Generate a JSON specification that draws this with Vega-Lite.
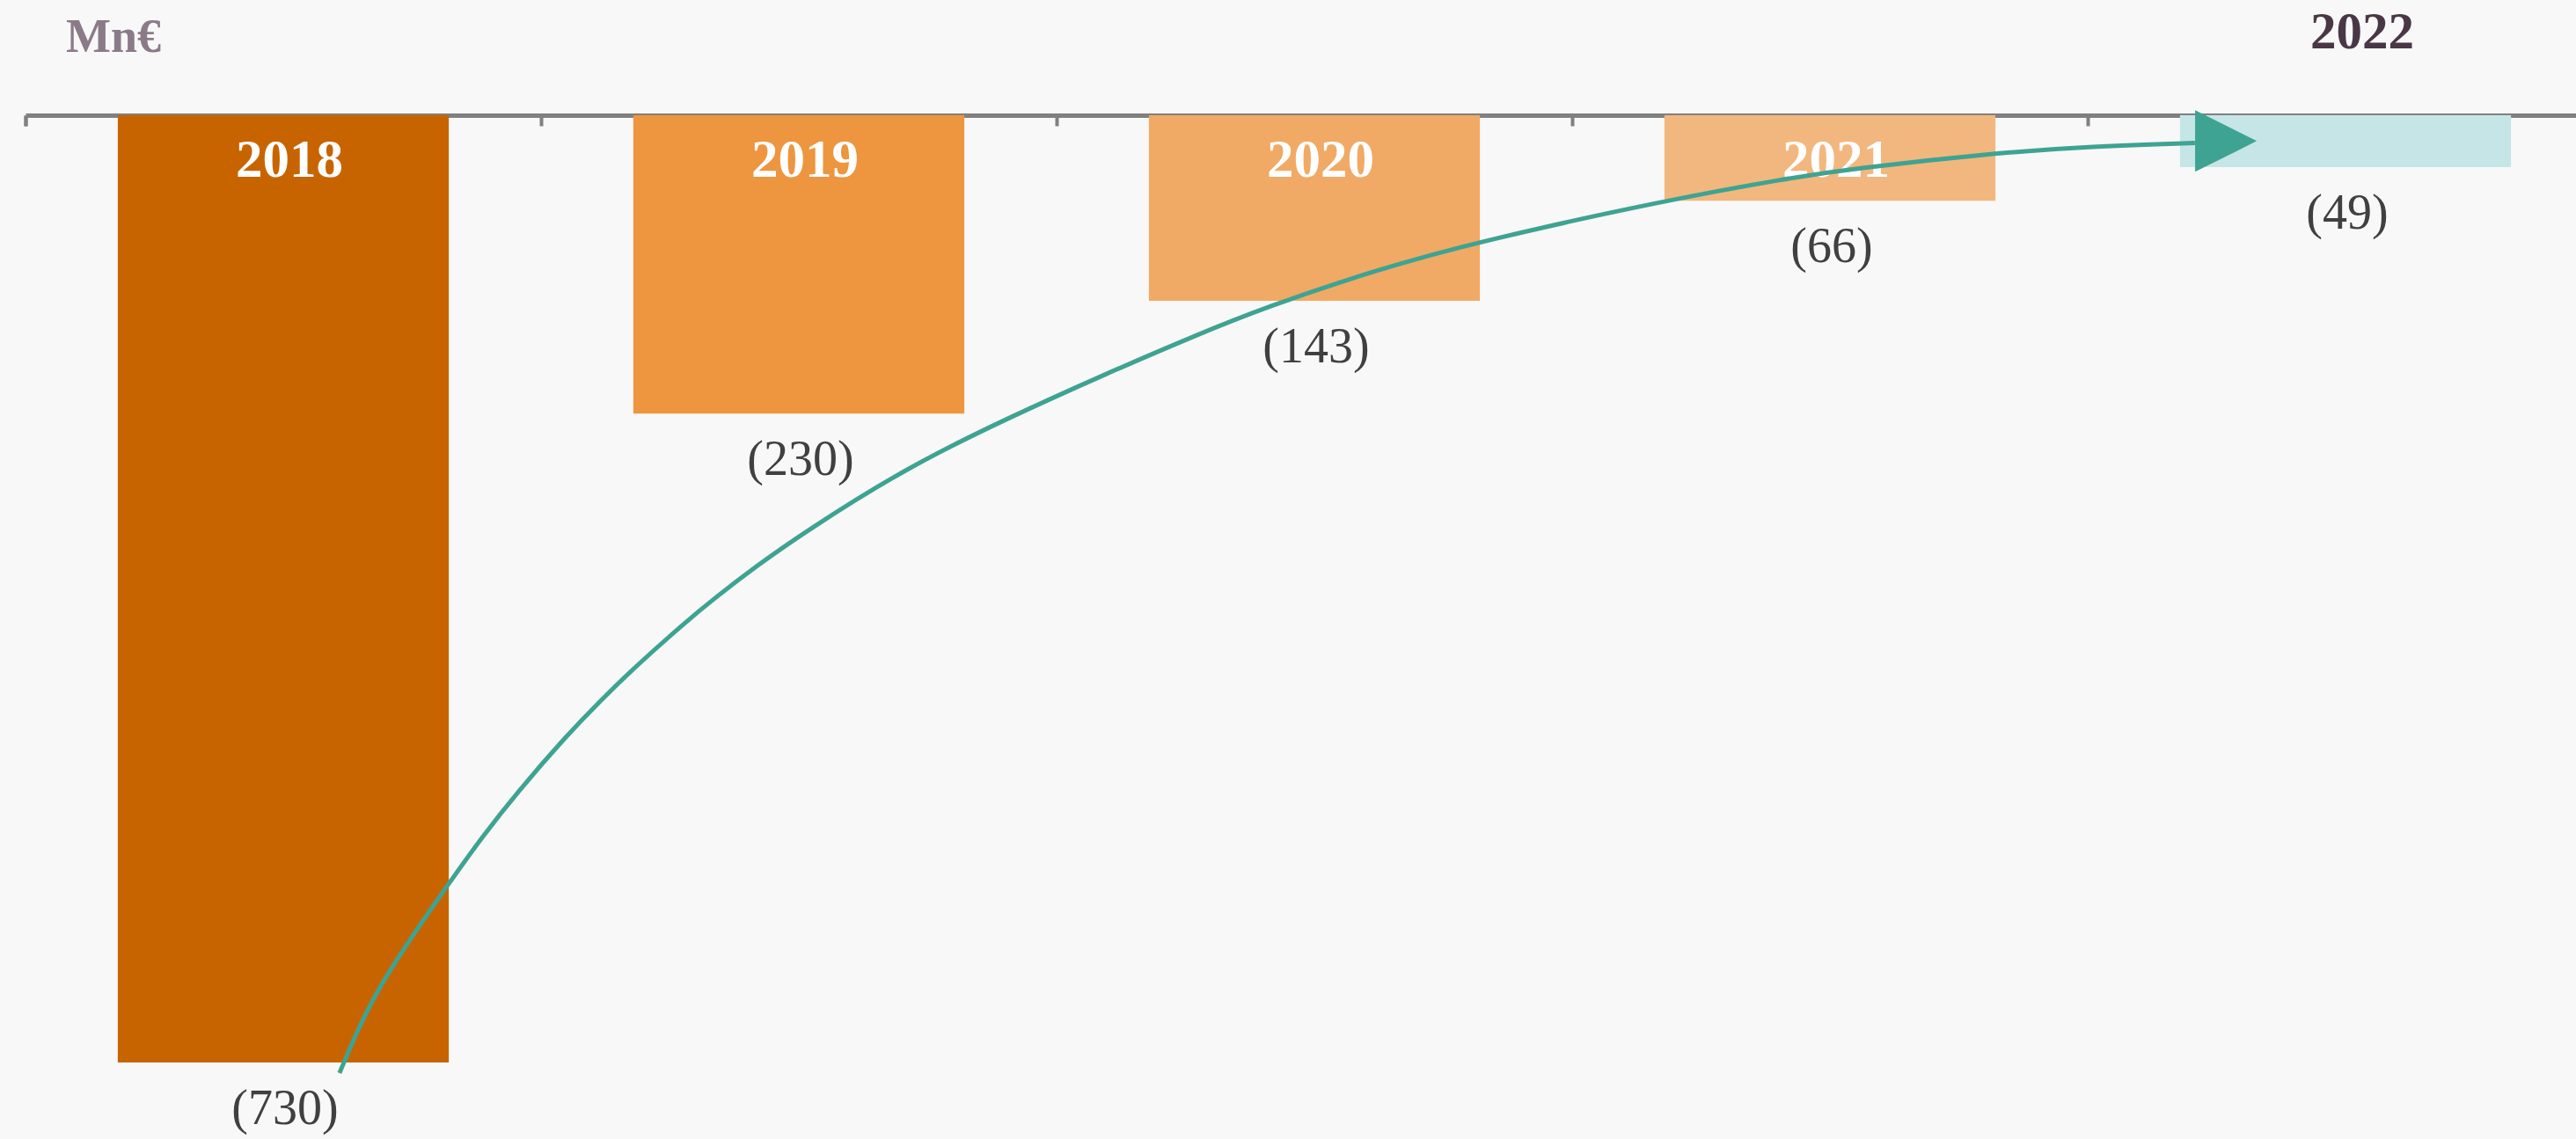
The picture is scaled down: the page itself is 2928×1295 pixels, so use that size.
{
  "$schema": "https://vega.github.io/schema/vega-lite/v6.json",
  "width": 2899,
  "height": 1164,
  "autosize": {"type": "none"},
  "padding": {"left": 29, "top": 131, "right": 0, "bottom": 0},
  "background": "#f8f8f8",
  "config": {"view": {"stroke": null}, "font": "Liberation Serif"},
  "datasets": {
    "bars": [
      {"year": "2018", "value": -730, "label": "(730)"},
      {"year": "2019", "value": -230, "label": "(230)"},
      {"year": "2020", "value": -143, "label": "(143)"},
      {"year": "2021", "value": -66, "label": "(66)"},
      {"year": "2022", "value": -40, "label": "(49)"}
    ],
    "curve": [
      {"u": 0.609, "v": -738.2},
      {"u": 0.659, "v": -690.7},
      {"u": 0.723, "v": -648.0},
      {"u": 0.821, "v": -592.0},
      {"u": 0.887, "v": -555.5},
      {"u": 0.952, "v": -522.7},
      {"u": 1.049, "v": -478.3},
      {"u": 1.116, "v": -450.8},
      {"u": 1.181, "v": -425.7},
      {"u": 1.278, "v": -391.4},
      {"u": 1.334, "v": -373.0},
      {"u": 1.416, "v": -347.9},
      {"u": 1.512, "v": -321.0},
      {"u": 1.708, "v": -271.8},
      {"u": 1.903, "v": -233.8},
      {"u": 2.099, "v": -198.7},
      {"u": 2.270, "v": -169.6},
      {"u": 2.404, "v": -148.2},
      {"u": 2.613, "v": -120.0},
      {"u": 2.816, "v": -97.5},
      {"u": 3.177, "v": -65.9},
      {"u": 3.423, "v": -48.3},
      {"u": 3.539, "v": -41.4},
      {"u": 3.821, "v": -29.1},
      {"u": 3.997, "v": -24.3},
      {"u": 4.208, "v": -21.4}
    ],
    "head": [{"u": 4.268, "v": -19.9}]
  },
  "layer": [
    {
      "data": {"name": "bars"},
      "encoding": {
        "x": {
          "field": "year",
          "type": "nominal",
          "sort": null,
          "scale": {"range": [0, 2930], "paddingInner": 0.358, "paddingOuter": 0.179},
          "axis": {
            "orient": "top",
            "labels": false,
            "title": null,
            "grid": false,
            "domainColor": "#808080",
            "domainWidth": 5,
            "tickColor": "#808080",
            "tickWidth": 4,
            "tickSize": -12,
            "bandPosition": 0,
            "tickOffset": -105,
            "tickExtra": true
          }
        }
      },
      "layer": [
        {
          "mark": {"type": "bar"},
          "encoding": {
            "y": {"field": "value", "type": "quantitative", "scale": {"domain": [-789, 0], "nice": false, "zero": false}, "axis": null},
            "color": {
              "field": "year",
              "type": "nominal",
              "scale": {"domain": ["2018", "2019", "2020", "2021", "2022"], "range": ["#c86400", "#ed963f", "#f0aa65", "#f2b77e", "#c6e5e6"]},
              "legend": null
            }
          }
        },
        {
          "transform": [{"filter": "datum.year != '2022'"}],
          "mark": {"type": "text", "fontSize": 61, "fontWeight": "bold", "color": "#ffffff", "baseline": "alphabetic", "dy": 70, "dx": 7},
          "encoding": {
            "y": {"datum": 0, "type": "quantitative"},
            "text": {"field": "year"}
          }
        },
        {
          "mark": {"type": "text", "fontSize": 56, "color": "#404040", "baseline": "alphabetic", "dy": 70, "dx": 2},
          "encoding": {
            "y": {"field": "value", "type": "quantitative"},
            "text": {"field": "label"}
          }
        },
        {
          "transform": [{"filter": "datum.year == '2022'"}],
          "mark": {"type": "text", "fontSize": 59, "fontWeight": "bold", "color": "#4a3746", "baseline": "alphabetic", "dy": -76, "dx": 19},
          "encoding": {
            "y": {"datum": 0, "type": "quantitative"},
            "text": {"field": "year"}
          }
        },
        {
          "transform": [{"filter": "datum.year == '2018'"}],
          "mark": {"type": "text", "fontSize": 54, "fontWeight": "bold", "color": "#8b7b88", "baseline": "alphabetic", "dy": -72, "dx": -193},
          "encoding": {
            "y": {"datum": 0, "type": "quantitative"},
            "text": {"value": "Mn€"}
          }
        }
      ]
    },
    {
      "encoding": {
        "x": {"field": "u", "type": "quantitative", "scale": {"domain": [0, 5], "range": [0, 2930], "nice": false, "zero": false}, "axis": null},
        "y": {"field": "v", "type": "quantitative"}
      },
      "layer": [
        {
          "data": {"name": "curve"},
          "mark": {"type": "line", "color": "#3ea392", "strokeWidth": 5, "interpolate": "basis", "strokeCap": "butt"}
        },
        {
          "data": {"name": "head"},
          "mark": {"type": "point", "shape": "M-1,-1L1,0L-1,1Z", "filled": true, "color": "#3ea392", "opacity": 1, "size": 4900}
        }
      ]
    }
  ],
  "resolve": {"scale": {"x": "independent"}}
}
